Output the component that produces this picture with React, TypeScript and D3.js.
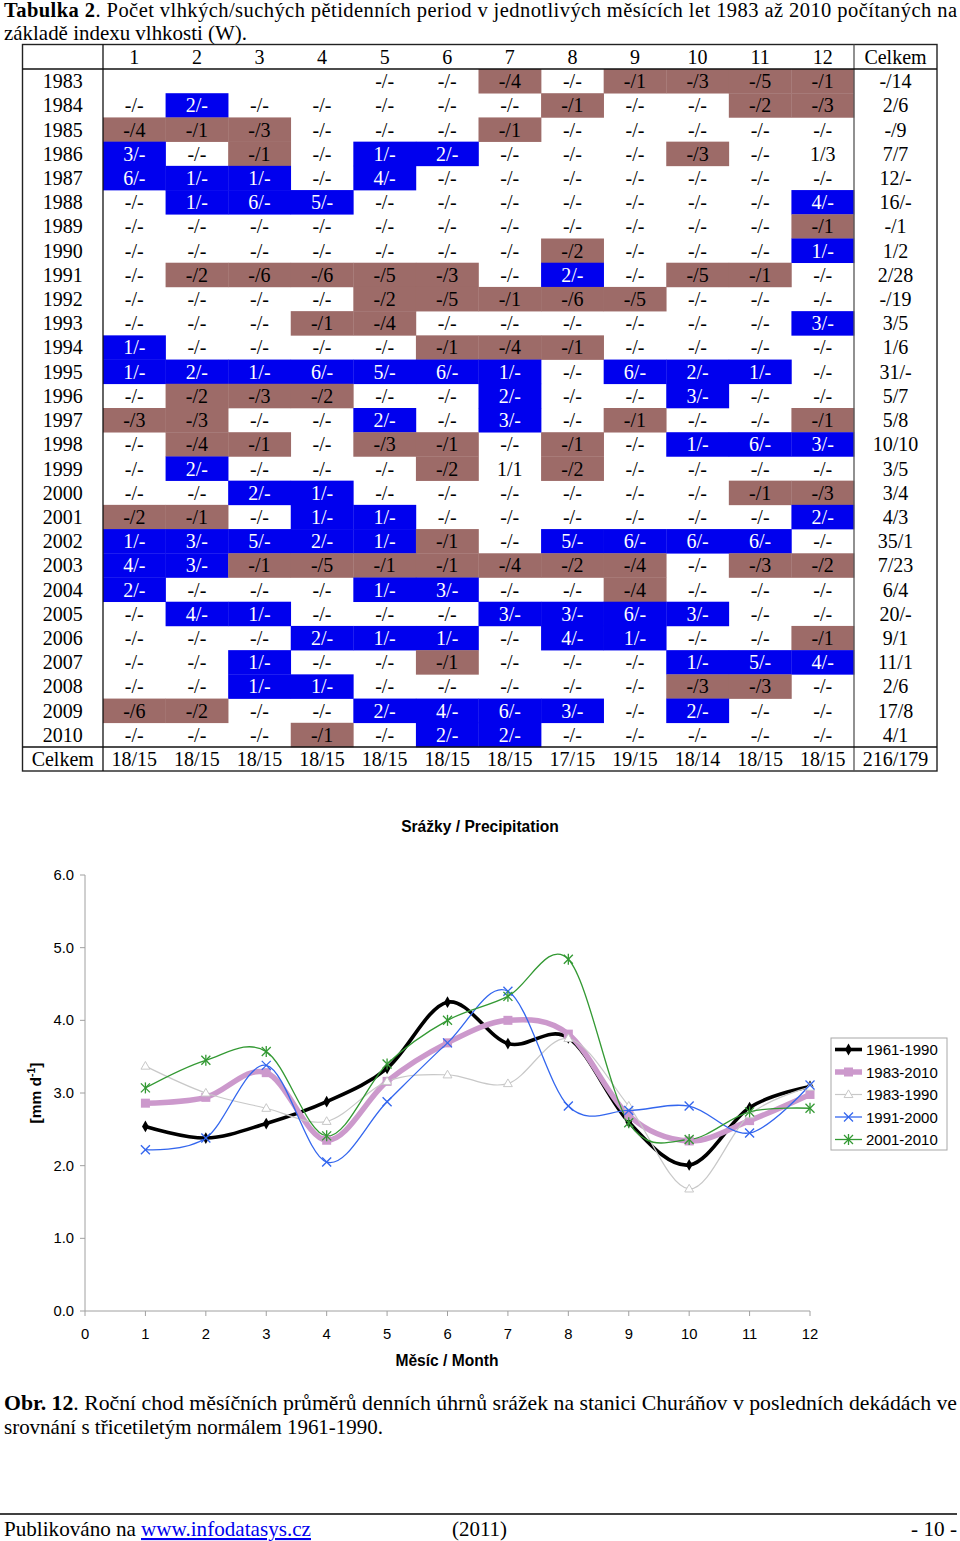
import React from 'react';
import * as d3 from 'd3';

// ---------- Table data ----------
const titleBold = 'Tabulka 2';
const titleRest = '. Počet vlhkých/suchých pětidenních period v jednotlivých měsících let 1983 až 2010 počítaných na';
const titleLine2 = 'základě indexu vlhkosti (W).';

const monthHeaders = ['1', '2', '3', '4', '5', '6', '7', '8', '9', '10', '11', '12'];
const totalHeader = 'Celkem';

const years = [
  '1983', '1984', '1985', '1986', '1987', '1988', '1989', '1990', '1991', '1992',
  '1993', '1994', '1995', '1996', '1997', '1998', '1999', '2000', '2001', '2002',
  '2003', '2004', '2005', '2006', '2007', '2008', '2009', '2010',
];

const cells: string[][] = [
  ['', '', '', '', '-/-', '-/-', '-/4', '-/-', '-/1', '-/3', '-/5', '-/1'],
  ['-/-', '2/-', '-/-', '-/-', '-/-', '-/-', '-/-', '-/1', '-/-', '-/-', '-/2', '-/3'],
  ['-/4', '-/1', '-/3', '-/-', '-/-', '-/-', '-/1', '-/-', '-/-', '-/-', '-/-', '-/-'],
  ['3/-', '-/-', '-/1', '-/-', '1/-', '2/-', '-/-', '-/-', '-/-', '-/3', '-/-', '1/3'],
  ['6/-', '1/-', '1/-', '-/-', '4/-', '-/-', '-/-', '-/-', '-/-', '-/-', '-/-', '-/-'],
  ['-/-', '1/-', '6/-', '5/-', '-/-', '-/-', '-/-', '-/-', '-/-', '-/-', '-/-', '4/-'],
  ['-/-', '-/-', '-/-', '-/-', '-/-', '-/-', '-/-', '-/-', '-/-', '-/-', '-/-', '-/1'],
  ['-/-', '-/-', '-/-', '-/-', '-/-', '-/-', '-/-', '-/2', '-/-', '-/-', '-/-', '1/-'],
  ['-/-', '-/2', '-/6', '-/6', '-/5', '-/3', '-/-', '2/-', '-/-', '-/5', '-/1', '-/-'],
  ['-/-', '-/-', '-/-', '-/-', '-/2', '-/5', '-/1', '-/6', '-/5', '-/-', '-/-', '-/-'],
  ['-/-', '-/-', '-/-', '-/1', '-/4', '-/-', '-/-', '-/-', '-/-', '-/-', '-/-', '3/-'],
  ['1/-', '-/-', '-/-', '-/-', '-/-', '-/1', '-/4', '-/1', '-/-', '-/-', '-/-', '-/-'],
  ['1/-', '2/-', '1/-', '6/-', '5/-', '6/-', '1/-', '-/-', '6/-', '2/-', '1/-', '-/-'],
  ['-/-', '-/2', '-/3', '-/2', '-/-', '-/-', '2/-', '-/-', '-/-', '3/-', '-/-', '-/-'],
  ['-/3', '-/3', '-/-', '-/-', '2/-', '-/-', '3/-', '-/-', '-/1', '-/-', '-/-', '-/1'],
  ['-/-', '-/4', '-/1', '-/-', '-/3', '-/1', '-/-', '-/1', '-/-', '1/-', '6/-', '3/-'],
  ['-/-', '2/-', '-/-', '-/-', '-/-', '-/2', '1/1', '-/2', '-/-', '-/-', '-/-', '-/-'],
  ['-/-', '-/-', '2/-', '1/-', '-/-', '-/-', '-/-', '-/-', '-/-', '-/-', '-/1', '-/3'],
  ['-/2', '-/1', '-/-', '1/-', '1/-', '-/-', '-/-', '-/-', '-/-', '-/-', '-/-', '2/-'],
  ['1/-', '3/-', '5/-', '2/-', '1/-', '-/1', '-/-', '5/-', '6/-', '6/-', '6/-', '-/-'],
  ['4/-', '3/-', '-/1', '-/5', '-/1', '-/1', '-/4', '-/2', '-/4', '-/-', '-/3', '-/2'],
  ['2/-', '-/-', '-/-', '-/-', '1/-', '3/-', '-/-', '-/-', '-/4', '-/-', '-/-', '-/-'],
  ['-/-', '4/-', '1/-', '-/-', '-/-', '-/-', '3/-', '3/-', '6/-', '3/-', '-/-', '-/-'],
  ['-/-', '-/-', '-/-', '2/-', '1/-', '1/-', '-/-', '4/-', '1/-', '-/-', '-/-', '-/1'],
  ['-/-', '-/-', '1/-', '-/-', '-/-', '-/1', '-/-', '-/-', '-/-', '1/-', '5/-', '4/-'],
  ['-/-', '-/-', '1/-', '1/-', '-/-', '-/-', '-/-', '-/-', '-/-', '-/3', '-/3', '-/-'],
  ['-/6', '-/2', '-/-', '-/-', '2/-', '4/-', '6/-', '3/-', '-/-', '2/-', '-/-', '-/-'],
  ['-/-', '-/-', '-/-', '-/1', '-/-', '2/-', '2/-', '-/-', '-/-', '-/-', '-/-', '-/-'],
];

const rowTotals = [
  '-/14', '2/6', '-/9', '7/7', '12/-', '16/-', '-/1', '1/2', '2/28', '-/19',
  '3/5', '1/6', '31/-', '5/7', '5/8', '10/10', '3/5', '3/4', '4/3', '35/1',
  '7/23', '6/4', '20/-', '9/1', '11/1', '2/6', '17/8', '4/1',
];

const monthTotals = ['18/15', '18/15', '18/15', '18/15', '18/15', '18/15', '18/15', '17/15', '19/15', '18/14', '18/15', '18/15'];
const grandTotal = '216/179';
const totalRowLabel = 'Celkem';

// ---------- Chart data ----------
const chartTitle = 'Srážky / Precipitation';
const xAxisTitle = 'Měsíc / Month';
const months = [1, 2, 3, 4, 5, 6, 7, 8, 9, 10, 11, 12];
const xTicks = [0, 1, 2, 3, 4, 5, 6, 7, 8, 9, 10, 11, 12];
const yTicks = [0, 1, 2, 3, 4, 5, 6];

const s1961_1990 = [2.54, 2.38, 2.58, 2.88, 3.34, 4.25, 3.68, 3.76, 2.6, 2.01, 2.8, 3.09];
const s1983_2010 = [2.86, 2.94, 3.28, 2.35, 3.16, 3.69, 4.0, 3.81, 2.69, 2.34, 2.62, 2.98];
const s1983_1990 = [3.37, 3.0, 2.79, 2.61, 3.16, 3.25, 3.13, 3.75, 2.82, 1.68, 2.7, 3.08];
const s1991_2000 = [2.22, 2.38, 3.38, 2.05, 2.88, 3.69, 4.4, 2.82, 2.76, 2.82, 2.45, 3.11];
const s2001_2010 = [3.07, 3.45, 3.57, 2.41, 3.4, 4.0, 4.33, 4.84, 2.59, 2.36, 2.74, 2.79];

const seriesNames = ['1961-1990', '1983-2010', '1983-1990', '1991-2000', '2001-2010'];
const seriesValues = [s1961_1990, s1983_2010, s1983_1990, s1991_2000, s2001_2010];

const captionBold = 'Obr. 12';
const captionRest = '. Roční chod měsíčních průměrů denních úhrnů srážek na stanici Churáňov v posledních dekádách ve';
const captionLine2 = 'srovnání s třicetiletým normálem 1961-1990.';

// ---------- Styles ----------
const BLUE = '#0000EE';
const BROWN = '#9D6B68';
const SERIF = '"Liberation Serif", "Times New Roman", serif';
const SANS = '"Liberation Sans", Arial, sans-serif';

const seriesStyles = [
  { color: '#000000', width: 3.6, marker: 'diamond' },
  { color: '#CC99CC', width: 5.5, marker: 'square' },
  { color: '#C8C8C8', width: 1.2, marker: 'triangle' },
  { color: '#3366EE', width: 1.3, marker: 'x' },
  { color: '#339933', width: 1.3, marker: 'star' },
];

function cellColor(v: string): string | null {
  if (!v) return null;
  const [w, d] = v.split('/');
  const wet = w !== '-';
  const dry = d !== '-';
  if (wet && !dry) return BLUE;
  if (dry && !wet) return BROWN;
  return null;
}

function Marker({ type, x, y, color }: { type: string; x: number; y: number; color: string }) {
  if (type === 'diamond') {
    const p = d3.symbol(d3.symbolDiamond, 40)();
    return <path d={p as string} transform={`translate(${x},${y})`} fill={color} />;
  }
  if (type === 'square') {
    return <rect x={x - 4.5} y={y - 4.5} width={9} height={9} fill={color} />;
  }
  if (type === 'triangle') {
    const p = d3.symbol(d3.symbolTriangle, 34)();
    return <path d={p as string} transform={`translate(${x},${y + 0.5})`} fill="#fff" stroke={color} strokeWidth={1} />;
  }
  if (type === 'x') {
    const r = 4.5;
    return (
      <g stroke={color} strokeWidth={1.3}>
        <line x1={x - r} y1={y - r} x2={x + r} y2={y + r} />
        <line x1={x - r} y1={y + r} x2={x + r} y2={y - r} />
      </g>
    );
  }
  const r = 4.5;
  return (
    <g stroke={color} strokeWidth={1.3}>
      <line x1={x - r} y1={y - r} x2={x + r} y2={y + r} />
      <line x1={x - r} y1={y + r} x2={x + r} y2={y - r} />
      <line x1={x} y1={y - r - 1} x2={x} y2={y + r + 1} />
    </g>
  );
}

export default function App() {
  // ----- table geometry -----
  const tableLeft = 22.5;
  const yearColRight = 103;
  const monthColsRight = 854;
  const tableRight = 937;
  const headerTop = 44.5;
  const headerBottom = 69;
  const bodyBottom = 747;
  const tableBottom = 771;

  const colX = d3.scaleBand<string>().domain(monthHeaders).range([yearColRight, monthColsRight]).padding(0);
  const rowY = d3.scaleBand<string>().domain(years).range([headerBottom, bodyBottom]).padding(0);
  const rh = rowY.bandwidth();
  const cw = colX.bandwidth();
  const yearCx = (tableLeft + yearColRight) / 2;
  const totalCx = (monthColsRight + tableRight) / 2;

  // ----- chart geometry -----
  const x = d3.scaleLinear().domain([0, 12]).range([85, 810]);
  const y = d3.scaleLinear().domain([0, 6]).range([1311, 875]);
  const line = d3
    .line<number>()
    .x((_, i) => x(months[i]))
    .y((d) => y(d))
    .curve(d3.curveCardinal.tension(0));

  const legendX = 831;
  const legendY = 1038;
  const legendRowH = 22.5;

  return (
    <svg
      width={960}
      height={1541}
      viewBox="0 0 960 1541"
      style={{ position: 'absolute', left: 0, top: 0, background: '#fff' }}
    >
      <rect x={0} y={0} width={960} height={1541} fill="#fff" />

      {/* Title */}
      <text x={4} y={17} fontFamily={SERIF} fontSize={20.5} textLength={953} lengthAdjust="spacing" fill="#000">
        <tspan fontWeight="bold">{titleBold}</tspan>
        <tspan>{titleRest}</tspan>
      </text>
      <text x={4} y={40} fontFamily={SERIF} fontSize={21} textLength={243} lengthAdjust="spacingAndGlyphs" fill="#000">
        {titleLine2}
      </text>

      {/* Table cell fills */}
      {years.map((yr, r) =>
        cells[r].map((v, c) => {
          const col = cellColor(v);
          if (!col) return null;
          return (
            <rect
              key={`f-${yr}-${c}`}
              x={colX(monthHeaders[c])}
              y={rowY(yr)}
              width={cw + 0.3}
              height={rh + 0.3}
              fill={col}
            />
          );
        })
      )}

      {/* Table text */}
      <g fontFamily={SERIF} fontSize={20} textAnchor="middle">
        {monthHeaders.map((m) => (
          <text key={`h-${m}`} x={(colX(m) as number) + cw / 2} y={headerBottom - 5} fill="#000">
            {m}
          </text>
        ))}
        <text x={totalCx} y={headerBottom - 5} fill="#000">
          {totalHeader}
        </text>
        {years.map((yr, r) => {
          const base = (rowY(yr) as number) + rh / 2 + 7;
          return (
            <g key={`r-${yr}`}>
              <text x={yearCx} y={base} fill="#000">
                {yr}
              </text>
              {cells[r].map((v, c) => (
                <text
                  key={`t-${yr}-${c}`}
                  x={(colX(monthHeaders[c]) as number) + cw / 2}
                  y={base}
                  fill={cellColor(v) === BLUE ? '#fff' : '#000'}
                >
                  {v}
                </text>
              ))}
              <text x={totalCx} y={base} fill="#000">
                {rowTotals[r]}
              </text>
            </g>
          );
        })}
        <text x={yearCx} y={tableBottom - 5} fill="#000">
          {totalRowLabel}
        </text>
        {monthTotals.map((v, c) => (
          <text key={`mt-${c}`} x={(colX(monthHeaders[c]) as number) + cw / 2} y={tableBottom - 5} fill="#000">
            {v}
          </text>
        ))}
        <text x={totalCx} y={tableBottom - 5} fill="#000">
          {grandTotal}
        </text>
      </g>

      {/* Table borders */}
      <g fill="none">
        <rect x={tableLeft} y={headerTop} width={tableRight - tableLeft} height={tableBottom - headerTop} stroke="#222" strokeWidth={1.4} />
        <line x1={yearColRight} y1={headerTop} x2={yearColRight} y2={tableBottom} stroke="#111" strokeWidth={1.3} />
        <line x1={monthColsRight} y1={headerTop} x2={monthColsRight} y2={tableBottom} stroke="#555" strokeWidth={1.3} />
        <line x1={tableLeft} y1={headerBottom} x2={tableRight} y2={headerBottom} stroke="#111" strokeWidth={1.3} />
        <line x1={tableLeft} y1={bodyBottom} x2={tableRight} y2={bodyBottom} stroke="#111" strokeWidth={1.3} />
      </g>

      {/* Chart */}
      <text x={480} y={832} textAnchor="middle" fontFamily={SANS} fontSize={15.6} fontWeight="bold" fill="#000">
        {chartTitle}
      </text>

      {/* Axes */}
      <g stroke="#A0A0A0" strokeWidth={1}>
        <line x1={x(0)} y1={y(6)} x2={x(0)} y2={y(0)} />
        <line x1={x(0)} y1={y(0)} x2={x(12)} y2={y(0)} />
        {yTicks.map((t) => (
          <line key={`yt-${t}`} x1={x(0) - 5} y1={y(t)} x2={x(0)} y2={y(t)} />
        ))}
        {xTicks.map((t) => (
          <line key={`xt-${t}`} x1={x(t)} y1={y(0)} x2={x(t)} y2={y(0) + 5} />
        ))}
      </g>
      <g fontFamily={SANS} fontSize={14.8} fill="#000">
        {yTicks.map((t) => (
          <text key={`yl-${t}`} x={x(0) - 11} y={y(t) + 5} textAnchor="end">
            {t.toFixed(1)}
          </text>
        ))}
        {xTicks.map((t) => (
          <text key={`xl-${t}`} x={x(t)} y={y(0) + 28} textAnchor="middle">
            {t}
          </text>
        ))}
      </g>
      <text x={447} y={1366} textAnchor="middle" fontFamily={SANS} fontSize={15.6} fontWeight="bold" fill="#000">
        {xAxisTitle}
      </text>
      <text
        transform={`translate(41,${y(3)}) rotate(-90)`}
        textAnchor="middle"
        fontFamily={SANS}
        fontSize={15.5}
        fontWeight="bold"
        fill="#000"
      >
        [mm d<tspan fontSize={10.5} dy={-6}>-1</tspan>
        <tspan dy={6}>]</tspan>
      </text>

      {/* Series */}
      {seriesValues.map((vals, i) => (
        <path
          key={`s-${i}`}
          d={line(vals) as string}
          fill="none"
          stroke={seriesStyles[i].color}
          strokeWidth={seriesStyles[i].width}
          strokeLinejoin="round"
        />
      ))}
      {seriesValues.map((vals, i) => (
        <g key={`m-${i}`}>
          {vals.map((v, j) => (
            <Marker key={j} type={seriesStyles[i].marker} x={x(months[j])} y={y(v)} color={seriesStyles[i].color} />
          ))}
        </g>
      ))}

      {/* Legend */}
      <rect x={legendX} y={legendY} width={116} height={112} fill="#fff" stroke="#A8A8A8" strokeWidth={1} />
      {seriesNames.map((n, i) => {
        const ly = legendY + 11.5 + i * legendRowH;
        const st = seriesStyles[i];
        return (
          <g key={`lg-${i}`}>
            <line x1={legendX + 4} y1={ly} x2={legendX + 31} y2={ly} stroke={st.color} strokeWidth={st.width} />
            <Marker type={st.marker} x={legendX + 17.5} y={ly} color={st.color} />
            <text x={legendX + 35} y={ly + 5.5} fontFamily={SANS} fontSize={15} fill="#000">
              {n}
            </text>
          </g>
        );
      })}

      {/* Caption */}
      <text x={4} y={1410} fontFamily={SERIF} fontSize={21} textLength={953} lengthAdjust="spacingAndGlyphs" fill="#000">
        <tspan fontWeight="bold">{captionBold}</tspan>
        <tspan>{captionRest}</tspan>
      </text>
      <text x={4} y={1434} fontFamily={SERIF} fontSize={21} textLength={379} lengthAdjust="spacingAndGlyphs" fill="#000">
        {captionLine2}
      </text>

      {/* Footer */}
      <line x1={0} y1={1514} x2={957} y2={1514} stroke="#000" strokeWidth={1.5} />
      <text x={4} y={1536} fontFamily={SERIF} fontSize={21} textLength={132} lengthAdjust="spacingAndGlyphs" fill="#000">
        Publikováno na
      </text>
      <text
        x={141}
        y={1536}
        fontFamily={SERIF}
        fontSize={21}
        textLength={170}
        lengthAdjust="spacingAndGlyphs"
        fill="#0000EE"
        textDecoration="underline"
        style={{ textDecoration: 'underline' }}
      >
        www.infodatasys.cz
      </text>
      <text x={452} y={1536} fontFamily={SERIF} fontSize={21} textLength={55} lengthAdjust="spacingAndGlyphs" fill="#000">
        (2011)
      </text>
      <text x={957} y={1536} fontFamily={SERIF} fontSize={21} textLength={46} lengthAdjust="spacingAndGlyphs" textAnchor="end" fill="#000">
        - 10 -
      </text>
    </svg>
  );
}
